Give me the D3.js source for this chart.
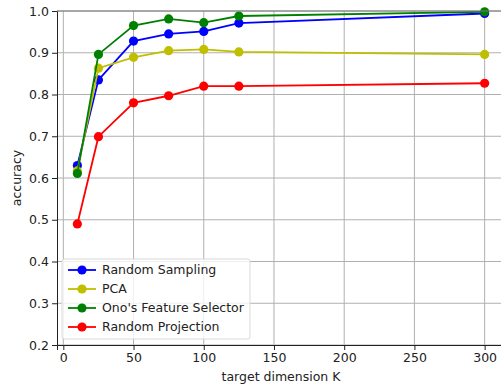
<!DOCTYPE html>
<html>
<head>
<meta charset="utf-8">
<script src="https://cdn.jsdelivr.net/npm/d3@7"></script>
<style>
  body { margin: 0; background: #fff; }
  svg text { font-family: "DejaVu Sans", sans-serif; }
</style>
</head>
<body>
<script>
// data
var kValues = [10, 25, 50, 75, 100, 125, 300];
var randomSampling = [0.630, 0.835, 0.928, 0.945, 0.951, 0.971, 0.994];
var pca = [0.617, 0.863, 0.889, 0.905, 0.908, 0.902, 0.896];
var onoSelector = [0.611, 0.896, 0.965, 0.981, 0.972, 0.988, 0.998];
var randomProjection = [0.490, 0.699, 0.780, 0.797, 0.820, 0.820, 0.827];
var xTicks = [0, 50, 100, 150, 200, 250, 300];
var yTicks = [0.2, 0.3, 0.4, 0.5, 0.6, 0.7, 0.8, 0.9, 1.0];

var series = [
  {name: "Random Sampling", color: "#0000ff", values: randomSampling},
  {name: "PCA", color: "#bfbf00", values: pca},
  {name: "Ono's Feature Selector", color: "#008000", values: onoSelector},
  {name: "Random Projection", color: "#ff0000", values: randomProjection}
];

// the figure is cropped on the right, so the plot runs past the window
var margin = {top: 11, right: -4, bottom: 41, left: 57},
    width = 501 - margin.left - margin.right,
    height = 386 - margin.top - margin.bottom;

var x = d3.scaleLinear().domain([-4.5, 314.5]).range([0, width]);
var y = d3.scaleLinear().domain([0.2, 1.0]).range([height, 0]);

var svg = d3.select("body").append("svg")
    .attr("width", 501)
    .attr("height", 386)
  .append("g")
    .attr("transform", "translate(" + margin.left + "," + margin.top + ")");

// grid
svg.append("g").selectAll("line")
    .data(xTicks)
  .enter().append("line")
    .attr("x1", function(d) { return x(d); })
    .attr("x2", function(d) { return x(d); })
    .attr("y1", 0).attr("y2", height)
    .attr("stroke", "#b0b0b0").attr("stroke-width", 1);
svg.append("g").selectAll("line")
    .data(yTicks)
  .enter().append("line")
    .attr("x1", 0).attr("x2", width)
    .attr("y1", function(d) { return y(d); })
    .attr("y2", function(d) { return y(d); })
    .attr("stroke", "#b0b0b0").attr("stroke-width", 1);

// lines and markers
var line = d3.line()
    .x(function(d, i) { return x(kValues[i]); })
    .y(function(d) { return y(d); });

series.forEach(function(s) {
  svg.append("path")
      .datum(s.values)
      .attr("fill", "none")
      .attr("stroke", s.color)
      .attr("stroke-width", 1.8)
      .attr("d", line);
  svg.append("g").selectAll("circle")
      .data(s.values)
    .enter().append("circle")
      .attr("cx", function(d, i) { return x(kValues[i]); })
      .attr("cy", function(d) { return y(d); })
      .attr("r", 4.6)
      .attr("fill", s.color);
});

// axes
var xAxis = svg.append("g")
    .attr("transform", "translate(0," + height + ")")
    .call(d3.axisBottom(x).tickValues(xTicks).tickSize(5).tickPadding(3));
var yAxis = svg.append("g")
    .call(d3.axisLeft(y).tickValues(yTicks).tickFormat(d3.format(".1f")).tickSize(5).tickPadding(3));
[xAxis, yAxis].forEach(function(a) {
  a.selectAll("text").attr("font-size", 12.5).attr("fill", "#222").attr("font-family", "DejaVu Sans, sans-serif");
  a.selectAll("line").attr("stroke", "#222");
  a.select(".domain").attr("stroke", "#222");
});

// top spine
svg.append("line")
    .attr("x1", 0).attr("x2", width)
    .attr("y1", 0).attr("y2", 0)
    .attr("stroke", "#777").attr("stroke-width", 1.2);

// axis labels
svg.append("text")
    .attr("x", (x(-4.5) + x(314.5)) / 2)
    .attr("y", height + 36)
    .attr("text-anchor", "middle")
    .attr("font-size", 12.5)
    .attr("fill", "#222")
    .text("target dimension K");
svg.append("text")
    .attr("transform", "translate(" + (-36) + "," + (height / 2) + ") rotate(-90)")
    .attr("text-anchor", "middle")
    .attr("font-size", 12.5)
    .attr("fill", "#222")
    .text("accuracy");

// legend
var legend = svg.append("g").attr("transform", "translate(5," + (height - 86) + ")");
legend.append("rect")
    .attr("width", 188).attr("height", 80)
    .attr("rx", 2)
    .attr("fill", "#fff").attr("fill-opacity", 0.8)
    .attr("stroke", "#d9d9d9");
series.forEach(function(s, i) {
  var row = legend.append("g").attr("transform", "translate(0," + (11 + i * 19) + ")");
  row.append("line")
      .attr("x1", 6).attr("x2", 34)
      .attr("stroke", s.color).attr("stroke-width", 1.8);
  row.append("circle")
      .attr("cx", 20).attr("r", 4.6).attr("fill", s.color);
  row.append("text")
      .attr("x", 40).attr("dy", "0.35em")
      .attr("font-size", 12.5)
      .attr("fill", "#222")
      .text(s.name);
});
</script>
</body>
</html>
